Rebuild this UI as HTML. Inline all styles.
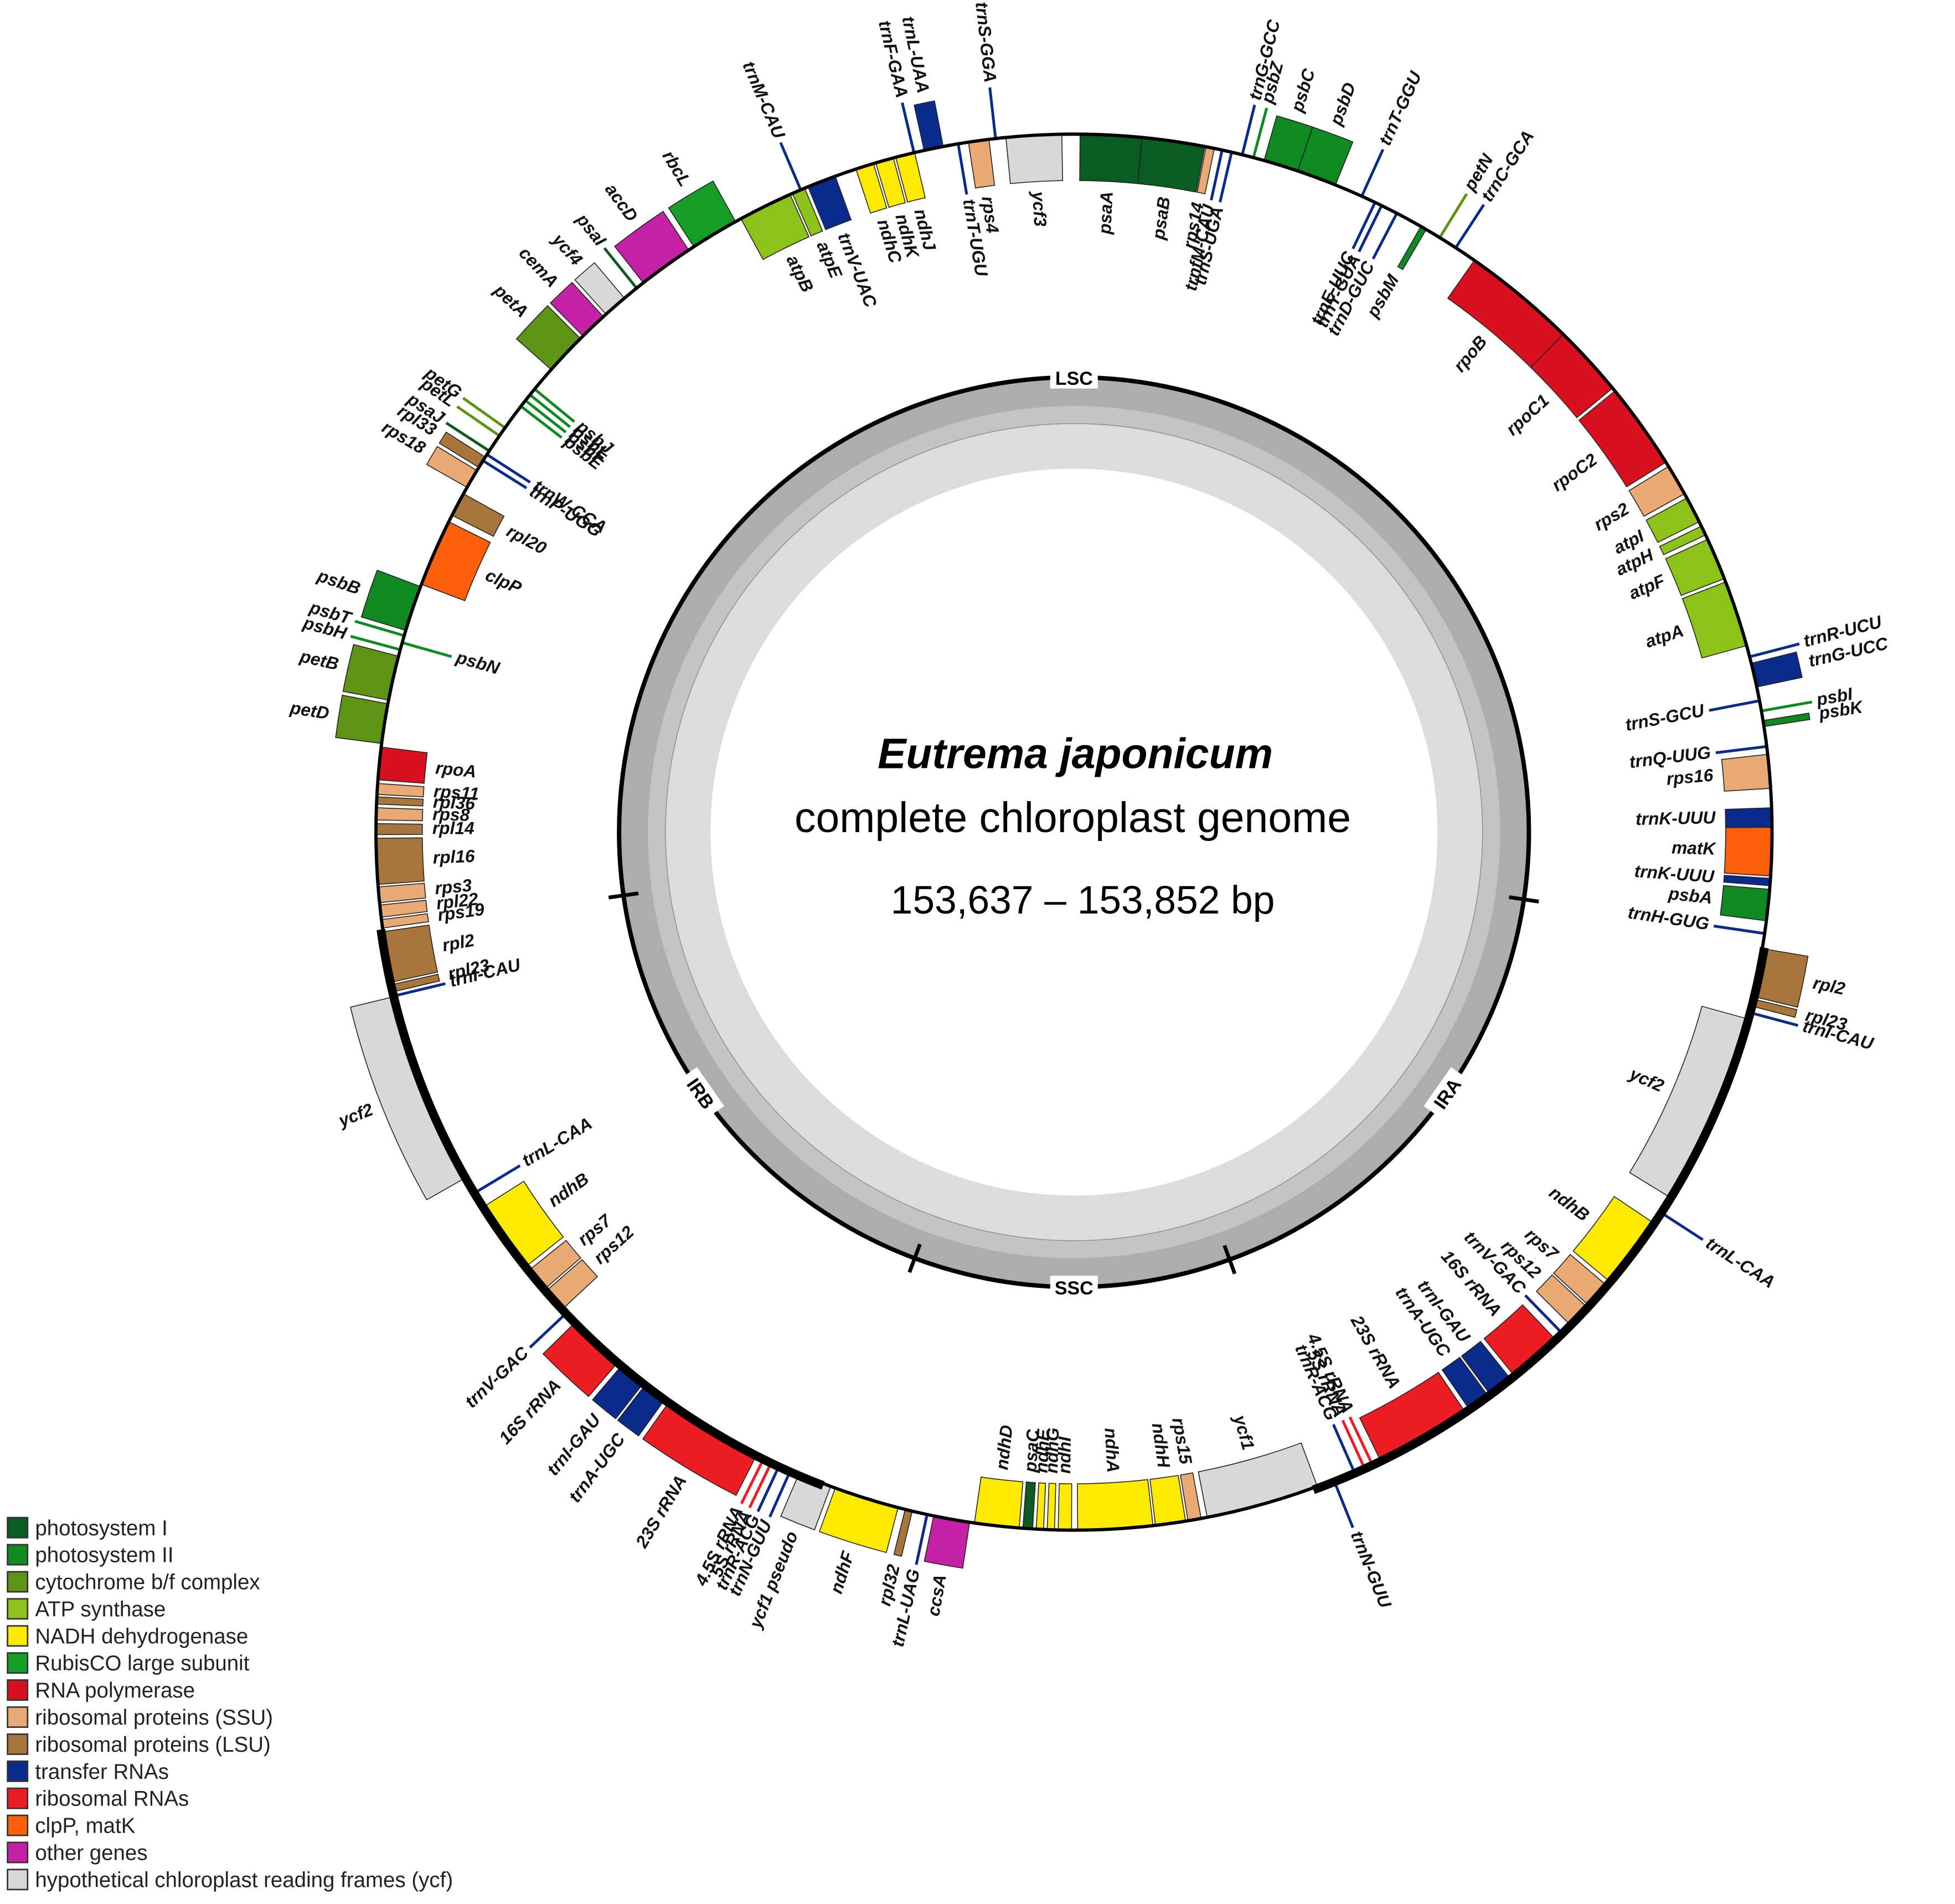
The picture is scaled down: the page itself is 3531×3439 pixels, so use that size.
<!DOCTYPE html>
<html><head><meta charset="utf-8"><style>
html,body{margin:0;padding:0;background:#fff;}
svg{display:block;}
text{font-family:"Liberation Sans",Arial,sans-serif;}
.gl{font-size:14px;font-style:italic;font-weight:bold;fill:#111;}
.lg{font-size:17px;fill:#222;}
</style></head><body>
<svg id="map" width="3531" height="3439" viewBox="0 0 1560 1519.3" xmlns="http://www.w3.org/2000/svg">
<g id="gc"></g>
<g id="genes"></g>
<g id="labels"></g>
<g id="legend"></g>
<text x="858" y="613" text-anchor="middle" font-size="34" font-weight="bold" font-style="italic">Eutrema japonicum</text>
<text x="856" y="664" text-anchor="middle" font-size="34">complete chloroplast genome</text>
<text x="864" y="729" text-anchor="middle" font-size="31.5">153,637 – 153,852 bp</text>
</svg>
<script>
const cx=857, cy=664, R=557, GH=37;
const colors={PSI:'#0c5b22',PSII:'#0f8a22',CYT:'#5f9315',ATP:'#8cc21a',NDH:'#ffe900',RBC:'#159e26',RPO:'#d9101e',SSU:'#e9aa73',LSU:'#a8763a',TRNA:'#0b2b8c',RRNA:'#ee1c24',CLP:'#ff5f0a',OTH:'#c421a8',YCF:'#d8d8d8'};
const legendNames=['photosystem I','photosystem II','cytochrome b/f complex','ATP synthase','NADH dehydrogenase','RubisCO large subunit','RNA polymerase','ribosomal proteins (SSU)','ribosomal proteins (LSU)','transfer RNAs','ribosomal RNAs','clpP, matK','other genes','hypothetical chloroplast reading frames (ycf)'];
const legendKeys=['PSI','PSII','CYT','ATP','NDH','RBC','RPO','SSU','LSU','TRNA','RRNA','CLP','OTH','YCF'];
// gene name, start angle, end angle (deg clockwise from top), side, category
const genes=[
['psaA',0.5,5.6,'in','PSI'],['psaB',5.6,10.8,'in','PSI'],['rps14',10.9,11.6,'in','SSU'],['trnfM-CAU',12.1,12.4,'in','TRNA'],['trnS-UGA',12.9,13.2,'in','TRNA'],
['trnG-GCC',13.8,14.1,'out','TRNA'],['psbZ',14.7,15.1,'out','PSII'],['psbC',15.8,18.7,'out','PSII'],['psbD',18.7,22,'out','PSII'],['trnT-GGU',24.2,24.5,'out','TRNA'],
['trnE-UUC',25.4,25.7,'in','TRNA'],['trnY-GUA',26,26.3,'in','TRNA'],['trnD-GUC',27.4,27.7,'in','TRNA'],['psbM',29.8,30.3,'in','PSII'],
['petN',31.4,31.8,'out','CYT'],['trnC-GCA',33,33.3,'out','TRNA'],
['rpoB',35,44.5,'in','RPO'],['rpoC1',44.5,50.5,'in','RPO'],['rpoC2',50.8,58,'in','RPO'],['rps2',58.4,61,'in','SSU'],['atpI',61.4,63.6,'in','ATP'],['atpH',64,64.8,'in','ATP'],['atpF',65.2,68.7,'in','ATP'],['atpA',69,74.5,'in','ATP'],
['trnR-UCU',75.3,75.6,'out','TRNA'],['trnG-UCC',76,78,'out','TRNA'],['trnS-GCU',79,79.3,'in','TRNA'],['psbI',79.8,80.2,'out','PSII'],['psbK',80.8,81.3,'out','PSII'],['trnQ-UUG',82.8,83.1,'in','TRNA'],['rps16',83.6,86.4,'in','SSU'],
['trnK-UUU',88,89.6,'in','TRNA'],['matK',89.6,93.6,'in','CLP'],['trnK-UUU ',93.8,94.4,'in','TRNA'],['psbA',94.7,97.3,'in','PSII'],['trnH-GUG',98.2,98.5,'in','TRNA'],
['rpl2',99.6,103.6,'out','LSU'],['rpl23',103.8,104.4,'out','LSU'],['trnI-CAU',104.8,105.1,'out','TRNA'],['ycf2',105.5,121.5,'in','YCF'],['trnL-CAA',122.8,123.1,'out','TRNA'],
['ndhB',124,130,'in','NDH'],['rps7',130.4,132.6,'in','SSU'],['rps12',132.8,134.8,'in','SSU'],['trnV-GAC',135.6,135.9,'in','TRNA'],['16S rRNA',136.5,141,'in','RRNA'],['trnI-GAU',141.4,143.5,'in','TRNA'],['trnA-UGC',143.7,145.6,'in','TRNA'],['23S rRNA',146,154,'in','RRNA'],['4.5S rRNA',154.6,154.9,'in','RRNA'],['5S rRNA',155.3,155.6,'in','RRNA'],['trnR-ACG',156.2,156.5,'in','TRNA'],['trnN-GUU',158,158.3,'out','TRNA'],
['ycf1',159.6,169,'in','YCF'],['rps15',169.5,170.6,'in','SSU'],['ndhH',170.8,173.3,'in','NDH'],['ndhA',173.5,179.7,'in','NDH'],['ndhI',180.2,181.3,'in','NDH'],['ndhG',181.6,182.2,'in','NDH'],['ndhE',182.5,183.1,'in','NDH'],['psaC',183.4,184.2,'in','PSI'],['ndhD',184.5,188.2,'in','NDH'],
['ccsA',188.6,191.6,'out','OTH'],['trnL-UAG',192,192.3,'out','TRNA'],['rpl32',193.4,194,'out','LSU'],['ndhF',194.6,200,'out','NDH'],['ycf1 pseudo',200.4,203.2,'out','YCF'],['trnN-GUU ',203.8,204.1,'out','TRNA'],
['trnR-ACG ',204.8,205.1,'out','TRNA'],['5S rRNA ',205.5,205.8,'out','RRNA'],['4.5S rRNA ',206.2,206.5,'out','RRNA'],['23S rRNA ',207,215.4,'out','RRNA'],['trnA-UGC ',215.8,217.8,'out','TRNA'],['trnI-GAU ',218,220.3,'out','TRNA'],['16S rRNA ',220.7,225.5,'out','RRNA'],['trnV-GAC ',226.4,226.7,'out','TRNA'],
['rps12 ',227,229,'in','SSU'],['rps7 ',229.2,231.2,'in','SSU'],['ndhB ',231.6,237.6,'in','NDH'],['trnL-CAA ',238.8,239.1,'in','TRNA'],['ycf2 ',240.4,256.4,'out','YCF'],
['trnI-CAU ',256.3,256.6,'in','TRNA'],['rpl23 ',256.8,257.4,'in','LSU'],['rpl2 ',257.6,261.8,'in','LSU'],['rps19',262.1,262.8,'in','SSU'],['rpl22',263,264,'in','SSU'],['rps3',264.2,265.5,'in','SSU'],['rpl16',265.7,269.5,'in','LSU'],['rpl14',269.8,270.7,'in','LSU'],['rps8',271,272,'in','SSU'],['rpl36',272.3,272.9,'in','LSU'],['rps11',273.1,274,'in','SSU'],['rpoA',274.3,277,'in','RPO'],
['petD',277.3,280.6,'out','CYT'],['petB',280.9,284.6,'out','CYT'],['psbH',285,285.3,'out','PSII'],['psbN',285.6,285.9,'in','PSII'],['psbT',286.2,286.5,'out','PSII'],['psbB',286.8,290.6,'out','PSII'],
['clpP',290.8,296.4,'in','CLP'],['rpl20',297,299,'in','LSU'],['rps18',299.6,301.2,'out','SSU'],['rpl33',301.5,302.5,'out','LSU'],['psaJ',302.9,303.3,'out','PSI'],['trnP-UGG',302,302.3,'in','TRNA'],['trnW-CCA',302.6,302.9,'in','TRNA'],
['petL',304.4,304.8,'out','CYT'],['petG',305.2,305.6,'out','CYT'],['psbE',307.4,307.8,'in','PSII'],['psbF',308,308.4,'in','PSII'],['psbL',308.6,309,'in','PSII'],['psbJ',309.2,309.6,'in','PSII'],
['petA',311.5,315,'out','CYT'],['cemA',315.3,317.6,'out','OTH'],['ycf4',317.9,319.9,'out','YCF'],['psaI',321,321.4,'out','PSI'],['accD',321.9,326.5,'out','OTH'],['rbcL',327,331,'out','RBC'],
['atpB',331.5,336,'in','ATP'],['atpE',336.2,337.3,'in','ATP'],['trnM-CAU',336.8,337.1,'out','TRNA'],['trnV-UAC',337.6,340,'in','TRNA'],
['ndhC',341.8,343.3,'in','NDH'],['ndhK',343.5,345,'in','NDH'],['ndhJ',345.2,346.8,'in','NDH'],['trnF-GAA',346.6,346.9,'out','TRNA'],['trnL-UAA',347.6,349.2,'out','TRNA'],
['trnT-UGU',350.3,350.6,'in','TRNA'],['rps4',351.3,353,'in','SSU'],['trnS-GGA',353.4,353.7,'out','TRNA'],['ycf3',354.4,359,'in','YCF']
];
const irSegments=[[99.5,160],[201,262]];
const junctionTicks=[98.5,160,200.5,262];
const regionNames=['LSC','IRA','SSC','IRB'];
const regionAngles=[0,125,180,235];
const gcInner=290, gcOuter=363, gcMean=340, gcMid=326;

const NS='http://www.w3.org/2000/svg';
function el(t,a,p){const e=document.createElementNS(NS,t);for(const k in a)e.setAttribute(k,a[k]);p.appendChild(e);return e;}
function pt(r,a){const t=a*Math.PI/180;return [cx+r*Math.sin(t),cy-r*Math.cos(t)];}
function sector(r1,r2,a1,a2){const l=(a2-a1)>180?1:0;const p1=pt(r2,a1),p2=pt(r2,a2),p3=pt(r1,a2),p4=pt(r1,a1);
return `M${p1}A${r2},${r2} 0 ${l} 1 ${p2}L${p3}A${r1},${r1} 0 ${l} 0 ${p4}Z`;}
function arc(r,a1,a2){const l=(a2-a1)>180?1:0;return `M${pt(r,a1)}A${r},${r} 0 ${l} 1 ${pt(r,a2)}`;}

const gc=document.getElementById('gc');
let c=el('circle',{cx,cy,r:(gcInner+gcOuter)/2,fill:'none',stroke:'#dcdcdc','stroke-width':gcOuter-gcInner},gc);

c=el('circle',{cx,cy,r:(gcMid+gcMean)/2,fill:'none',stroke:'#c4c4c4','stroke-width':gcMean-gcMid},gc);

c=el('circle',{cx,cy,r:(gcMean+gcOuter)/2,fill:'none',stroke:'#adadad','stroke-width':gcOuter-gcMean},gc);

c=el('circle',{cx,cy,r:gcMid,fill:'none',stroke:'#8a8a8a','stroke-width':0.6},gc);

c=el('circle',{cx,cy,r:gcOuter,fill:'none',stroke:'#000','stroke-width':3.5},gc);

junctionTicks.forEach(a=>{const p=pt(gcOuter-12,a),q=pt(gcOuter+12,a);
const t=el('line',{x1:p[0],y1:p[1],x2:q[0],y2:q[1],stroke:'#000','stroke-width':3},gc);
});
regionNames.forEach((n,i)=>{const a=regionAngles[i];const p=pt(gcOuter,a);
let rot=(a>90&&a<270)?a-180:a;
const g=el('g',{transform:`translate(${p[0]},${p[1]}) rotate(${rot})`},gc);

el('rect',{x:-19,y:-9,width:38,height:18,fill:'#fff'},g);
const t=el('text',{x:0,y:6,'text-anchor':'middle','font-size':15,'font-weight':'bold'},g);t.textContent=n;});

const gg=document.getElementById('genes'), lg=document.getElementById('labels');
genes.forEach(([n,a1,a2,side,cat])=>{
 const thin=(a2-a1)<0.5;
 let r1,r2;
 if(side==='in'){r1=R-GH;r2=R;}else{r1=R;r2=R+GH;}
 let p;
 if(thin){const m=(a1+a2)/2;const A=pt(side==='in'?R-GH-4:R,m),B=pt(side==='in'?R:R+GH+4,m);
  p=el('line',{x1:A[0],y1:A[1],x2:B[0],y2:B[1],stroke:colors[cat],'stroke-width':2.2},gg);}
 else p=el('path',{d:sector(r1,r2,a1,a2),fill:colors[cat],stroke:'#222','stroke-width':0.7},gg);
 
 
 const m=(a1+a2)/2, right=m<180;
 const lr=side==='in'?R-GH-8:R+GH+8;
 const q=pt(lr,m);
 const rot=right?m-90:m+90;
 let anchor;
 if(side==='in')anchor=right?'end':'start';else anchor=right?'start':'end';
 const t=el('text',{x:q[0],y:q[1],class:'gl','text-anchor':anchor,'dominant-baseline':'middle',transform:`rotate(${rot} ${q[0]} ${q[1]})`},lg);
 t.textContent=n.trim();
 
 
});
c=el('circle',{cx,cy,r:R,fill:'none',stroke:'#000','stroke-width':2.6},gg);

irSegments.forEach(([a1,a2])=>{const s=el('path',{d:arc(R+1.5,a1,a2),fill:'none',stroke:'#000','stroke-width':7},gg);
});

const L=document.getElementById('legend');
legendNames.forEach((n,i)=>{const y=1211+i*21.6;
const g=el('g',{},L);
el('rect',{x:6,y:y,width:16,height:16,fill:colors[legendKeys[i]],stroke:'#333','stroke-width':1.2},g);
const t=el('text',{x:28,y:y+14,class:'lg'},g);t.textContent=n;});
</script>
</body></html>
